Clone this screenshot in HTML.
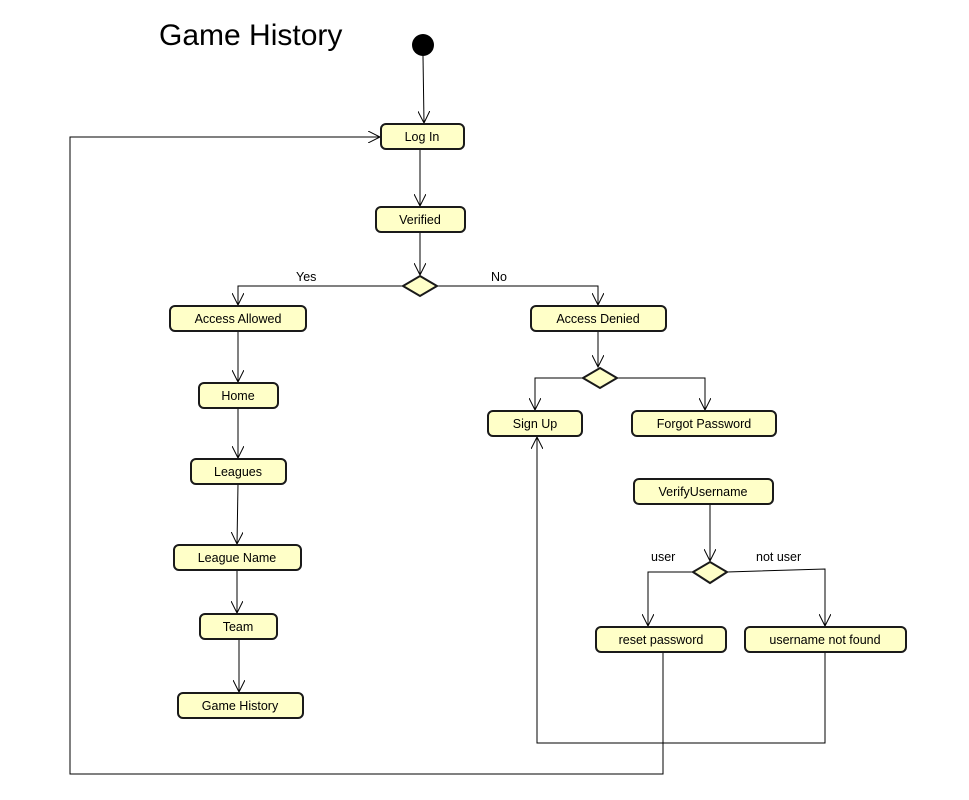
<!DOCTYPE html>
<html><head><meta charset="utf-8"><style>
html,body{margin:0;padding:0;background:#fff;}
svg{display:block;}
text{font-family:"Liberation Sans",Arial,sans-serif;font-size:12.5px;fill:#000;}
.n rect{fill:#ffffc8;stroke:#1a1a1a;stroke-width:2;}
.d{fill:#ffffc8;stroke:#1a1a1a;stroke-width:2;}
.e{fill:none;stroke:#000;stroke-width:1;}
</style></head><body>
<svg width="969" height="800" viewBox="0 0 969 800" xmlns="http://www.w3.org/2000/svg">
<defs>
<marker id="a" markerWidth="14" markerHeight="12" refX="12" refY="6" orient="auto" markerUnits="userSpaceOnUse">
<path d="M0,0 L12,6 L0,12" fill="none" stroke="#000" stroke-width="1"/>
</marker>
</defs>
<text x="159" y="45" style="font-size:30px">Game History</text>
<circle cx="423" cy="45" r="11" fill="#000"/>

<path class="e" d="M423,56 L424,123" marker-end="url(#a)"/>
<path class="e" d="M420,149 L420,206" marker-end="url(#a)"/>
<path class="e" d="M420,232 L420,275" marker-end="url(#a)"/>
<path class="e" d="M403,286 L238,286 L238,305" marker-end="url(#a)"/>
<path class="e" d="M437,286 L598,286 L598,305" marker-end="url(#a)"/>
<path class="e" d="M238,331 L238,382" marker-end="url(#a)"/>
<path class="e" d="M238,408 L238,458" marker-end="url(#a)"/>
<path class="e" d="M238,484 L237,544" marker-end="url(#a)"/>
<path class="e" d="M237,570 L237,613" marker-end="url(#a)"/>
<path class="e" d="M239,639 L239,692" marker-end="url(#a)"/>
<path class="e" d="M598,331 L598,367" marker-end="url(#a)"/>
<path class="e" d="M583,378 L535,378 L535,410" marker-end="url(#a)"/>
<path class="e" d="M617,378 L705,378 L705,410" marker-end="url(#a)"/>
<path class="e" d="M710,504 L710,561" marker-end="url(#a)"/>
<path class="e" d="M693,572 L648,572 L648,626" marker-end="url(#a)"/>
<path class="e" d="M727,572 L825,569 L825,626" marker-end="url(#a)"/>
<path class="e" d="M663,652 L663,774 L70,774 L70,137 L380,137" marker-end="url(#a)"/>
<path class="e" d="M825,652 L825,743 L537,743 L537,437" marker-end="url(#a)"/>

<text x="296" y="281">Yes</text>
<text x="491" y="281">No</text>
<text x="651" y="561">user</text>
<text x="756" y="561">not user</text>

<polygon class="d" points="420,276 437,286 420,296 403,286"/>
<polygon class="d" points="600,368 617,378 600,388 583,378"/>
<polygon class="d" points="710,562 727,572 710,583 693,572"/>

<g class="n">
<rect x="381" y="124" width="83" height="25" rx="5"/>
<rect x="376" y="207" width="89" height="25" rx="5"/>
<rect x="170" y="306" width="136" height="25" rx="5"/>
<rect x="531" y="306" width="135" height="25" rx="5"/>
<rect x="199" y="383" width="79" height="25" rx="5"/>
<rect x="488" y="411" width="94" height="25" rx="5"/>
<rect x="632" y="411" width="144" height="25" rx="5"/>
<rect x="191" y="459" width="95" height="25" rx="5"/>
<rect x="634" y="479" width="139" height="25" rx="5"/>
<rect x="174" y="545" width="127" height="25" rx="5"/>
<rect x="200" y="614" width="77" height="25" rx="5"/>
<rect x="596" y="627" width="130" height="25" rx="5"/>
<rect x="745" y="627" width="161" height="25" rx="5"/>
<rect x="178" y="693" width="125" height="25" rx="5"/>
</g>
<g text-anchor="middle">
<text x="422" y="141">Log In</text>
<text x="420" y="224">Verified</text>
<text x="238" y="323">Access Allowed</text>
<text x="598" y="323">Access Denied</text>
<text x="238" y="400">Home</text>
<text x="535" y="428">Sign Up</text>
<text x="704" y="428">Forgot Password</text>
<text x="238" y="476">Leagues</text>
<text x="703" y="496">VerifyUsername</text>
<text x="237" y="562">League Name</text>
<text x="238" y="631">Team</text>
<text x="661" y="644">reset password</text>
<text x="825" y="644">username not found</text>
<text x="240" y="710">Game History</text>
</g>
</svg>
</body></html>
